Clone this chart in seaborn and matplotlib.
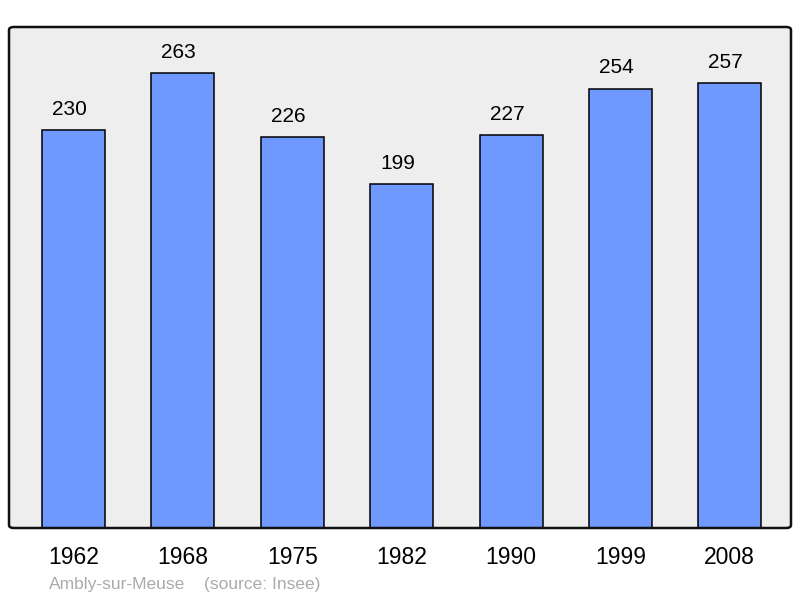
import matplotlib
matplotlib.use("Agg")
import matplotlib.pyplot as plt
import seaborn as sns
import pandas as pd
from matplotlib.patches import FancyBboxPatch

# -------------------- DATA --------------------
years = ["1962", "1968", "1975", "1982", "1990", "1999", "2008"]
population = [230, 263, 226, 199, 227, 254, 257]
commune = "Ambly-sur-Meuse"
source = "(source: Insee)"

df = pd.DataFrame({"year": years, "pop": population})

# -------------------- STYLE --------------------
sns.set_theme(style="white")
plt.rcParams["font.family"] = ["Liberation Sans", "DejaVu Sans"]

fig = plt.figure(figsize=(8, 5.98), dpi=100)
ax = fig.add_axes([9 / 800, 70 / 598, 782 / 800, 501 / 598])
ax.set_facecolor("#EEEEEE")

sns.barplot(data=df, x="year", y="pop", color="#7099FF", saturation=1,
            width=0.576, edgecolor="black", linewidth=1.1, ax=ax, zorder=2)

ax.set_xlim(-0.59, 6.56)
ax.set_ylim(0, 289.6)

# value labels above bars (slightly left of centre, like the original)
for i, v in enumerate(population):
    ax.annotate(str(v), (i, v), xytext=(-3, 8), textcoords="offset points",
                ha="center", va="bottom", fontsize=15, color="black")

ax.set_xlabel("")
ax.set_ylabel("")
ax.set_yticks([])
ax.tick_params(axis="x", length=0, labelsize=16.5, pad=13, colors="black")

# rounded frame
for s in ax.spines.values():
    s.set_visible(False)
frame = FancyBboxPatch((0, 0), 1, 1, transform=ax.transAxes,
                       boxstyle="round,pad=0,rounding_size=0.006",
                       fill=False, edgecolor="#111111", linewidth=1.8,
                       clip_on=False, zorder=5)
ax.add_patch(frame)

fig.text(49 / 800, 1 - 584 / 598, commune, fontsize=12.5, color="#AAAAAA",
         ha="left", va="center")
fig.text(204 / 800, 1 - 584 / 598, source, fontsize=12.5, color="#AAAAAA",
         ha="left", va="center")

fig.savefig("out.png", dpi=100, facecolor="white")
